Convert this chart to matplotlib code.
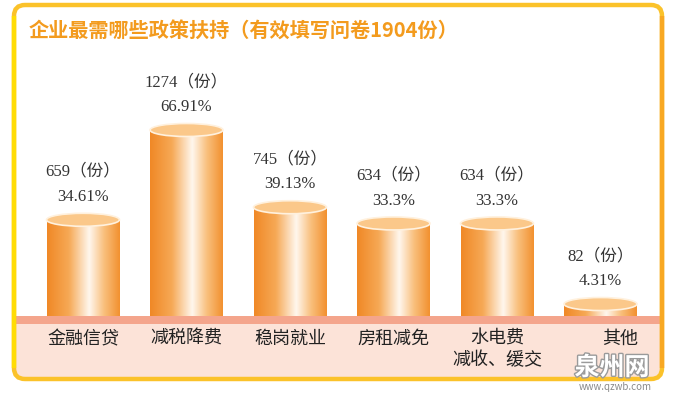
import numpy as np
import matplotlib
matplotlib.use('Agg')
import matplotlib.pyplot as plt
from matplotlib.patches import FancyBboxPatch, Rectangle, Ellipse
from matplotlib.colors import LinearSegmentedColormap
from matplotlib.transforms import blended_transform_factory
import matplotlib.patheffects as pe

plt.rcParams['font.family'] = ['Noto Sans CJK SC', 'DejaVu Sans']

# data
categories = ['金融信贷', '减税降费', '稳岗就业', '房租减免', '水电费\n减收、缓交', '其他']
counts = [659, 1274, 745, 634, 634, 82]
percents = [34.61, 66.91, 39.13, 33.3, 33.3, 4.31]
title = '企业最需哪些政策扶持（有效填写问卷1904份）'

W, H = 673, 393
fig = plt.figure(figsize=(W / 100, H / 100), dpi=100)

# background axes in pixel units (y down)
bg = fig.add_axes([0, 0, 1, 1])
bg.set_xlim(0, W)
bg.set_ylim(H, 0)
bg.axis('off')

frame = FancyBboxPatch((14, 5), 648, 374, boxstyle='round,pad=0,rounding_size=11',
                       facecolor='white', edgecolor='none', zorder=0)
bg.add_patch(frame)
pink = Rectangle((0, 316), W, 80, facecolor='#FCE3D8', edgecolor='none', zorder=1)
bg.add_patch(pink)
pink.set_clip_path(frame)
strip = Rectangle((0, 316), W, 7.5, facecolor='#F4A58C', edgecolor='none', zorder=2)
bg.add_patch(strip)
strip.set_clip_path(frame)
border = FancyBboxPatch((14, 5), 648, 374, boxstyle='round,pad=0,rounding_size=11',
                        facecolor='none', edgecolor='#FBC22A', linewidth=3.2, zorder=5)
bg.add_patch(border)
bg.plot([14, 14], [16, 368], color='#FFDC05', lw=3.2, zorder=6, solid_capstyle='butt')
bg.plot([662, 662], [16, 368], color='#F8A823', lw=3.2, zorder=6, solid_capstyle='butt')

bg.text(29, 31, title, fontsize=14.5, fontweight='bold', color='#F39B1E',
        va='center', ha='left')

# data axes: baseline at pixel 316
ax = fig.add_axes([31.25 / W, (H - 316) / H, 621 / W, 204.4 / H])
ax.set_xlim(-0.5, 5.5)
ax.set_ylim(0, 1400)
ax.patch.set_alpha(0)
ax.axis('off')

cmap = LinearSegmentedColormap.from_list('cyl', [
    (0.0, '#F08826'), (0.3, '#F6A956'), (0.58, '#FFF7EE'),
    (0.78, '#F9C07E'), (1.0, '#F2912F')])
grad = np.linspace(0, 1, 256).reshape(1, -1)
bw = 0.705
eh = 13 / 0.146

for i, v in enumerate(counts):
    ax.imshow(grad, cmap=cmap, extent=[i - bw / 2, i + bw / 2, 0, v],
              aspect='auto', zorder=2, interpolation='bicubic')
    ax.add_patch(Ellipse((i, v), bw, eh, facecolor='#FBC88A',
                         edgecolor='#FFF1DE', linewidth=1.2, zorder=3))
    ax.annotate(f'{v}（份）', (i, v), xytext=(0, 34.5), textcoords='offset points',
                ha='center', va='center', fontsize=12, color='#333333',
                family=['Liberation Serif', 'Noto Sans CJK SC'])
    ax.annotate(f'{percents[i]:g}%', (i, v), xytext=(0, 16.5), textcoords='offset points',
                ha='center', va='center', fontsize=12, color='#333333',
                family=['Liberation Serif', 'Noto Sans CJK SC'])
ax.set_xlim(-0.5, 5.5)
ax.set_ylim(0, 1400)

tr = blended_transform_factory(ax.transData, bg.transData)
for i, c in enumerate(categories):
    dx = 0.19 if c == '其他' else 0.0
    bg.text(i + dx, 330, c, transform=tr, ha='center', va='top', fontsize=13,
            color='#222222', linespacing=1.25, zorder=7)

# watermark
bg.text(612, 368, '泉州网', fontsize=18, fontweight='bold', color='white', ha='center',
        va='center', zorder=8,
        path_effects=[pe.withStroke(linewidth=2, foreground='#9A9A9A')])
bg.text(615, 387, 'www.qzwb.com', fontsize=7, color='#8A8A8A', ha='center',
        va='center', zorder=8)

fig.savefig('out.png', dpi=100)
